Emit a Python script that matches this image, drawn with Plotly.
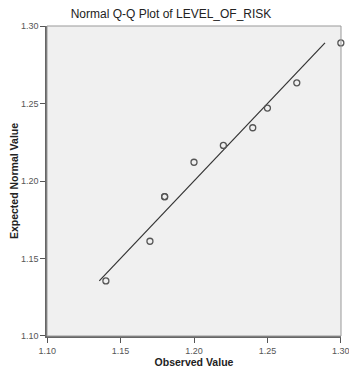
import plotly.graph_objects as go

observed = [1.14, 1.17, 1.18, 1.18, 1.20, 1.22, 1.24, 1.25, 1.27, 1.30]
expected = [1.1355, 1.1611, 1.1899, 1.1899, 1.2121, 1.2230, 1.2344, 1.2471, 1.2634, 1.2892]
line_x = [min(expected), max(expected)]
line_y = [min(expected), max(expected)]
tick_vals = [1.10, 1.15, 1.20, 1.25, 1.30]
tick_text = ["1.10", "1.15", "1.20", "1.25", "1.30"]

fig = go.Figure()
fig.add_trace(go.Scatter(x=line_x, y=line_y, mode="lines",
                         line=dict(color="#333333", width=1.2), hoverinfo="skip"))
fig.add_trace(go.Scatter(x=observed, y=expected, mode="markers", cliponaxis=False,
                         marker=dict(symbol="circle-open", size=6, color="#555555",
                                     line=dict(width=1.3, color="#555555"))))

axis_common = dict(range=[1.0999, 1.3001], tickvals=tick_vals, ticktext=tick_text,
                   showgrid=False, zeroline=False, ticks="outside", ticklen=5,
                   tickcolor="#555555", tickwidth=1, automargin=False,
                   ticklabeloverflow="allow",
                   tickfont=dict(family="Arial, Liberation Sans", size=9, color="#555555"),
                   showline=True, linecolor="#666666", linewidth=1.5)

fig.update_layout(
    width=349, height=369,
    margin=dict(l=47, r=8, t=26, b=33),
    paper_bgcolor="white", plot_bgcolor="#f0f0f0",
    showlegend=False,
    title=dict(text="Normal Q-Q Plot of LEVEL_OF_RISK", x=0.49, xanchor="center",
               y=0.962, yanchor="middle",
               font=dict(family="Arial, Liberation Sans", size=12, color="#222222")),
    xaxis=dict(**axis_common,
               title=dict(text="<b>Observed Value</b>", standoff=4,
                          font=dict(family="Arial, Liberation Sans", size=10.5, color="#222222"))),
    yaxis=dict(**axis_common),
)
fig.add_annotation(text="<b>Expected Normal Value</b>", xref="paper", yref="paper",
                   x=-0.112, y=0.5, xanchor="center", yanchor="middle", textangle=-90,
                   showarrow=False,
                   font=dict(family="Arial, Liberation Sans", size=10.5, color="#222222"))
fig.add_shape(type="rect", xref="paper", yref="paper", x0=0, y0=0, x1=1, y1=1,
              line=dict(color="#999999", width=1), layer="above")

fig.write_html("out.html", config={"displayModeBar": False},
               post_script="document.body.style.margin='0';document.body.style.overflow='hidden';")
